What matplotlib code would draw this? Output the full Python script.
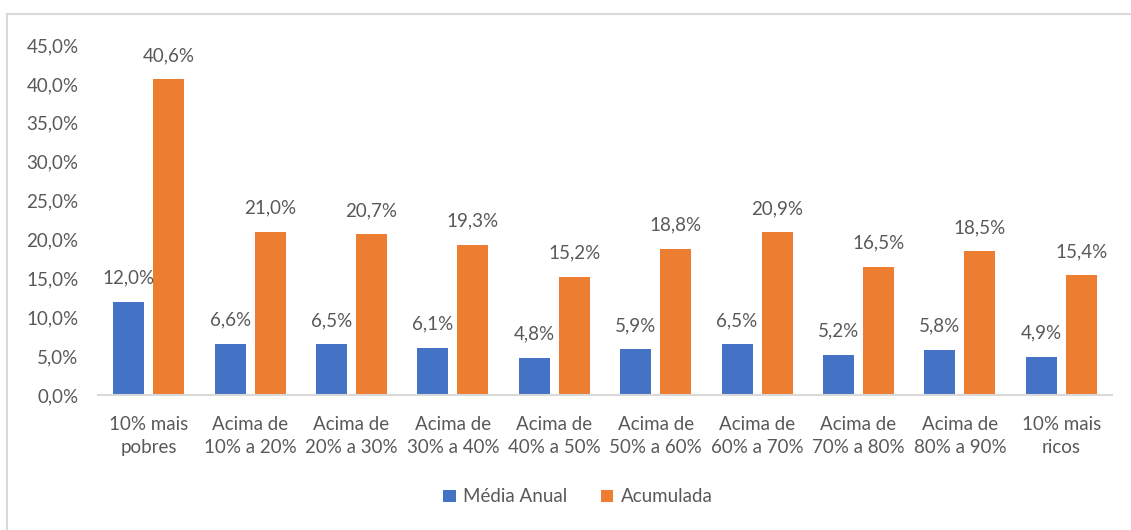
import matplotlib
matplotlib.use("Agg")
import matplotlib.pyplot as plt
from matplotlib.lines import Line2D
from matplotlib.ticker import FuncFormatter
import numpy as np

# Data
categories = [
    "10% mais\npobres",
    "Acima de\n10% a 20%",
    "Acima de\n20% a 30%",
    "Acima de\n30% a 40%",
    "Acima de\n40% a 50%",
    "Acima de\n50% a 60%",
    "Acima de\n60% a 70%",
    "Acima de\n70% a 80%",
    "Acima de\n80% a 90%",
    "10% mais\nricos",
]
media_anual = [12.0, 6.6, 6.5, 6.1, 4.8, 5.9, 6.5, 5.2, 5.8, 4.9]
acumulada = [40.6, 21.0, 20.7, 19.3, 15.2, 18.8, 20.9, 16.5, 18.5, 15.4]
series_names = ["Média Anual", "Acumulada"]

BLUE = "#4472C4"
ORANGE = "#ED7D31"
TEXT = "#595959"
GRID = "#D9D9D9"

plt.rcParams["font.family"] = ["Lato", "DejaVu Sans"]
FS = 13.5

fig = plt.figure(figsize=(11.31, 5.30), dpi=100)
ax = fig.add_axes([98 / 1131, 1 - 395 / 530, (1112 - 98) / 1131, (395 - 45) / 530])

x = np.arange(len(categories))
w = 0.305
off = w / 2 + 0.045
b1 = ax.bar(x - off, media_anual, w, color=BLUE, label=series_names[0])
b2 = ax.bar(x + off, acumulada, w, color=ORANGE, label=series_names[1])

def pct(v):
    return f"{v:.1f}%".replace(".", ",")

for bars, vals in [(b1, media_anual), (b2, acumulada)]:
    for rect, v in zip(bars, vals):
        ax.annotate(pct(v), (rect.get_x() + rect.get_width() / 2, v),
                    xytext=(0, 17), textcoords="offset points",
                    ha="center", va="center", fontsize=FS, color=TEXT)

ax.set_xlim(-0.5, len(categories) - 0.5)
ax.set_ylim(0, 45)
ax.set_yticks(np.arange(0, 46, 5))
ax.yaxis.set_major_formatter(FuncFormatter(lambda v, p: pct(v)))
ax.set_xticks(x)
ax.set_xticklabels(categories, linespacing=1.45)

for s in ["top", "right", "left"]:
    ax.spines[s].set_visible(False)
ax.spines["bottom"].set_color(GRID)
ax.spines["bottom"].set_linewidth(1.5)
ax.tick_params(axis="both", length=0, labelsize=FS, labelcolor=TEXT)
ax.tick_params(axis="y", pad=14)
ax.tick_params(axis="x", pad=15)

fig.legend(handles=[b1, b2], labels=series_names, loc="center",
           bbox_to_anchor=(578 / 1131, 1 - 497 / 530), ncol=2, frameon=False,
           fontsize=FS, handlelength=0.65, handleheight=0.65, handletextpad=0.4,
           columnspacing=1.8, labelcolor=TEXT)

# chart frame (top and left edges visible)
fig.add_artist(Line2D([7 / 1131, 7 / 1131], [0, 1 - 14 / 530], transform=fig.transFigure,
                      color=GRID, linewidth=1.5))
fig.add_artist(Line2D([7 / 1131, 1], [1 - 14 / 530, 1 - 14 / 530], transform=fig.transFigure,
                      color=GRID, linewidth=1.5))

fig.savefig("out.png", dpi=100)
